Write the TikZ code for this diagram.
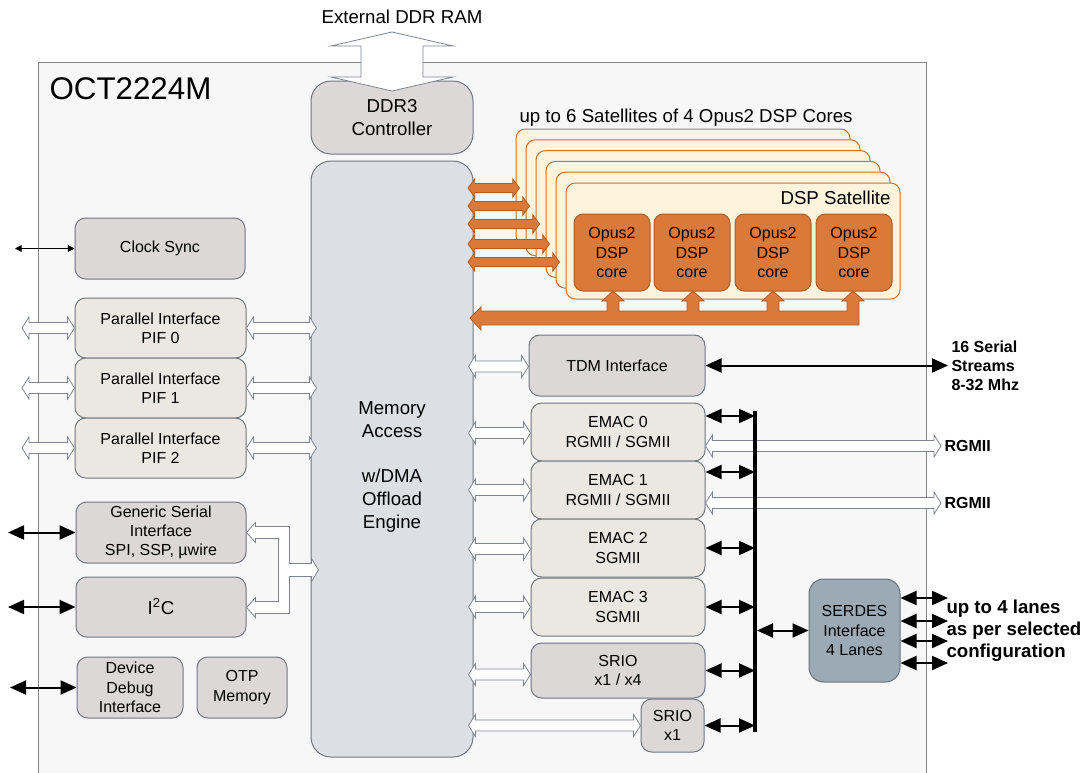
\documentclass[tikz,border=0pt]{standalone}
\usepackage{fontspec}
\setmainfont{Liberation Sans}
\usetikzlibrary{arrows.meta, calc}

\definecolor{chipbg}{HTML}{F7F7F7}
\definecolor{chipln}{HTML}{858585}
\definecolor{boxln}{HTML}{6F7780}
\definecolor{grayfill}{HTML}{DBD8D7}
\definecolor{beige}{HTML}{EAE8E1}
\definecolor{memfill}{HTML}{DCE0E5}
\definecolor{serfill}{HTML}{9CAAB6}
\definecolor{serln}{HTML}{66727E}
\definecolor{satfill}{HTML}{FEF3DD}
\definecolor{satln}{HTML}{C8712C}
\definecolor{orfill}{HTML}{D97A3A}
\definecolor{orln}{HTML}{B35A1E}
\definecolor{hollowln}{HTML}{7C8590}

\newcommand{\ahs}{4.1pt}
\newcommand{\ahh}{8.2pt}
\newcommand{\ahl}{5.2pt}
\newcommand{\harr}[3][hollow]{%
  \draw[#1] let \p1=(#2), \p2=(#3) in
    (\x1,\y1) -- (\x1+\ahl,\y1+\ahh) -- (\x1+\ahl,\y1+\ahs) -- (\x2-\ahl,\y1+\ahs)
    -- (\x2-\ahl,\y1+\ahh) -- (\x2,\y1) -- (\x2-\ahl,\y1-\ahh) -- (\x2-\ahl,\y1-\ahs)
    -- (\x1+\ahl,\y1-\ahs) -- (\x1+\ahl,\y1-\ahh) -- cycle;}

\begin{document}
\begin{tikzpicture}[x=0.75pt, y=-0.75pt, line width=0.75pt, align=center, inner sep=0pt,
  font=\fontsize{12}{14.5}\selectfont,
  wh/.style 2 args={minimum width=#1*0.75pt, minimum height=#2*0.75pt},
  box/.style={draw=boxln, rounded corners=8pt},
  gbox/.style={box, fill=grayfill},
  bbox/.style={box, fill=beige},
  sat/.style={draw=satln, fill=satfill, rounded corners=7pt},
  core/.style={draw=orln, fill=orfill, rounded corners=7pt},
  big/.style={font=\fontsize{14}{17}\selectfont},
  lbl/.style={anchor=west, align=left, font=\fontsize{12}{14.3}\selectfont\bfseries},
  hollow/.style={draw=hollowln, fill=white, line width=0.6pt},
  oarr/.style={draw=orln, fill=orfill, line width=0.6pt},
  blk/.style={line width=1.5pt, {Triangle[length=12pt,width=10.5pt]}-{Triangle[length=12pt,width=10.5pt]}},
  clkarr/.style={line width=0.8pt, {Triangle[length=5pt,width=5pt]}-{Triangle[length=5pt,width=5pt]}},
  bus/.style={line width=3pt}]
\useasboundingbox (0,0) rectangle (1089,772);
\clip (0,0) rectangle (1089,772);

\node[draw=chipln, fill=chipbg, wh={888}{760}, anchor=north west] (0) at (38,62) {};
\node[anchor=west, font=\fontsize{23.5}{28}\selectfont] (t0) at (49,89) {OCT2224M};
\node[big] (t1) at (402,17) {External DDR RAM};

\node[gbox, big, wh={162}{73}, rounded corners=15pt] (1) at (392,117.5) {DDR3\\Controller};
\node[box, fill=memfill, wh={162}{596}, rounded corners=15pt] (2) at (392,459) {};
\node[big] (m) at (392,467) {Memory\\Access\\[17pt]w/DMA\\Offload\\Engine};

\node[gbox, wh={170}{61}] (3) at (160,248.5) {Clock Sync};
\node[bbox, wh={171}{60}] (4) at (160.5,328) {Parallel Interface\\PIF 0};
\node[bbox, wh={171}{60}] (5) at (160.5,388) {Parallel Interface\\PIF 1};
\node[bbox, wh={171}{60}] (6) at (160.5,448) {Parallel Interface\\PIF 2};
\node[gbox, wh={170}{61}] (7) at (161,532.5) {Generic Serial\\Interface\\SPI, SSP, µwire};
\node[gbox, big, wh={170}{60}] (8) at (161,607) {I\textsuperscript{2}C};
\node[gbox, wh={106}{61}] (9) at (130,687.5) {Device\\Debug\\Interface};
\node[gbox, wh={90}{61}] (10) at (242,687.5) {OTP\\Memory};

\node[gbox, wh={176}{61}] (11) at (617,365.5) {TDM Interface};
\node[bbox, wh={174}{58}] (12) at (618,432) {EMAC 0\\RGMII / SGMII};
\node[bbox, wh={174}{58}] (13) at (618,490) {EMAC 1\\RGMII / SGMII};
\node[bbox, wh={174}{58}] (14) at (618,548) {EMAC 2\\SGMII};
\node[bbox, wh={174}{58}] (15) at (618,607) {EMAC 3\\SGMII};
\node[gbox, wh={174}{55}] (16) at (618,670.5) {SRIO\\x1 / x4};
\node[gbox, wh={63}{53}] (17) at (672.5,725.5) {SRIO\\x1};
\node[box, draw=serln, fill=serfill, wh={91}{103}, rounded corners=11pt] (18) at (854.5,630.5)
  {SERDES\\Interface\\4 Lanes};

\node[big, anchor=west] (t2) at (519,118) {up to 6 Satellites of 4 Opus2 DSP Cores};
\node[sat, wh={334}{116}] (s0) at (683,187) {};
\node[sat, wh={334}{116}] (s1) at (693,197.8) {};
\node[sat, wh={334}{116}] (s2) at (703,208.6) {};
\node[sat, wh={334}{116}] (s3) at (713,219.4) {};
\node[sat, wh={334}{116}] (s4) at (723,230.2) {};
\node[sat, wh={334}{116}] (s5) at (733,241) {};
\node[big, anchor=east] (t3) at (891,198) {DSP Satellite};
\node[core, wh={76}{77}] (c1) at (612,252.5) {Opus2\\DSP\\core};
\node[core, wh={76}{77}] (c2) at (692,252.5) {Opus2\\DSP\\core};
\node[core, wh={76}{77}] (c3) at (773,252.5) {Opus2\\DSP\\core};
\node[core, wh={76}{77}] (c4) at (854,252.5) {Opus2\\DSP\\core};

\coordinate (e) at (392,32);
\draw[hollow] (e) -- ++(61,14) -- ++(-30,0) -- ++(0,31) -- ++(30,0) -- ++(-61,14)
  -- ++(-61,-14) -- ++(30,0) -- ++(0,-31) -- ++(-30,0) -- cycle;

\begin{scope}
\def\ahs{3.4pt}\def\ahh{6.8pt}\def\ahl{5pt}
\foreach \i/\y in {0/188,1/206,2/224,3/244,4/262} {
  \coordinate (o\i) at (468,\y);
  \harr[oarr]{o\i}{$(o\i -| s\i.west)+(4,0)$}
}
\end{scope}
\draw[oarr] (470,318) -- (481,307) -- (481,311)
  foreach \c in {613,693,773,853} { -- (\c-6,311) -- (\c-6,301) -- (\c-11,301) -- (\c,291)
  -- (\c+11,301) -- (\c+6,301) -- (\c+6,311) } -- (859,325) -- (481,325) -- (481,330) -- cycle;

\coordinate (a4) at (22,328);
\coordinate (a5) at (22,388);
\coordinate (a6) at (22,448);
\harr{a4}{4.west}
\harr{a5}{5.west}
\harr{a6}{6.west}
\harr{4.east}{$(4.east -| 2.west)+(6,0)$}
\harr{5.east}{$(5.east -| 2.west)+(6,0)$}
\harr{6.east}{$(6.east -| 2.west)+(6,0)$}
\draw[hollow] (7.east) -- ++(9,-10) -- ++(0,4) -- ++(34,0) -- ++(0,37) -- ++(22,0) -- ++(0,-5)
  -- ++(7,11.5) -- ++(-7,11.5) -- ++(0,-5) -- ++(-22,0) -- ++(0,37) -- ++(-34,0) -- ++(0,4)
  -- ++(-9,-10) -- ++(9,-10) -- ++(0,4) -- ++(23,0) -- ++(0,-63) -- ++(-23,0) -- ++(0,4) -- cycle;

\harr{$(11.west -| 2.east)+(-5,1)$}{11.west}
\harr{$(12.west -| 2.east)+(-5,1)$}{12.west}
\harr{$(13.west -| 2.east)+(-5,0)$}{13.west}
\harr{$(14.west -| 2.east)+(-5,1)$}{14.west}
\harr{$(15.west -| 2.east)+(-5,0)$}{15.west}
\harr{$(16.west -| 2.east)+(-5,4)$}{16.west}
\harr{$(17.west -| 2.east)+(-5,0)$}{17.west}

\coordinate (r0) at (941,446);
\coordinate (r1) at (941,503);
\harr{12.east |- r0}{r0}
\harr{13.east |- r1}{r1}
\node[lbl] (t4) at (944,446) {RGMII};
\node[lbl] (t5) at (944,503) {RGMII};

\coordinate (bt) at (755,411);
\coordinate (bb) at (755,732);
\coordinate (k0) at ($(12.east)+(0,-16)$);
\coordinate (k1) at ($(13.east)+(0,-18)$);
\draw[blk] (k0) -- (k0 -| bt);
\draw[blk] (k1) -- (k1 -| bt);
\draw[blk] (14.east) -- (14.east -| bt);
\draw[blk] (15.east) -- (15.east -| bt);
\draw[blk] (16.east) -- (16.east -| bt);
\draw[blk] (17.east) -- (17.east -| bt);
\draw[blk] ($(18.west -| bt)+(2,0)$) -- (18.west);
\draw[bus] (bt) -- (bb);

\coordinate (tr) at (948,366);
\draw[blk] (11.east) -- (11.east -| tr);
\node[lbl] (t6) at (951,366) {16 Serial\\Streams\\8-32 Mhz};

\coordinate (l1) at (948,598);
\coordinate (l2) at (948,621);
\coordinate (l3) at (948,641);
\coordinate (l4) at (948,663);
\draw[blk] (18.east |- l1) -- (l1);
\draw[blk] (18.east |- l2) -- (l2);
\draw[blk] (18.east |- l3) -- (l3);
\draw[blk] (18.east |- l4) -- (l4);
\node[lbl, font=\fontsize{14}{16.5}\selectfont\bfseries] (t7) at (946,631)
  {up to 4 lanes\\as per selected\\configuration};

\coordinate (k) at (15,248.5);
\coordinate (g) at (8,532.5);
\coordinate (i) at (8,607);
\coordinate (d) at (10,687.5);
\draw[clkarr] (k) -- (3.west);
\draw[blk] (g) -- (7.west);
\draw[blk] (i) -- (8.west);
\draw[blk] (d) -- (9.west);
\end{tikzpicture}
\end{document}
